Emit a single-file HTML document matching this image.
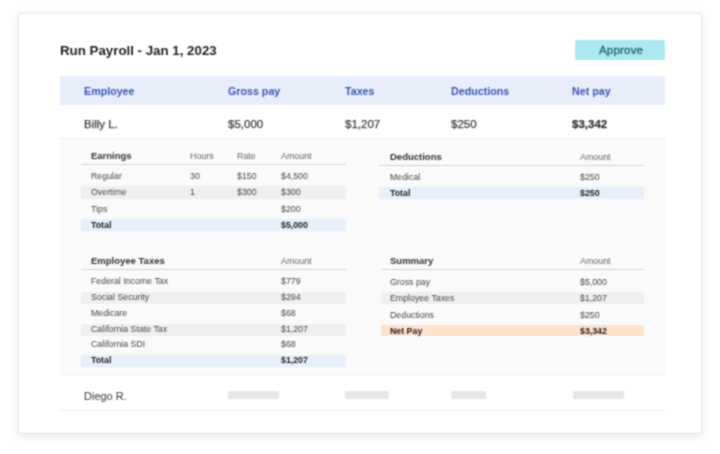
<!DOCTYPE html>
<html><head><meta charset="utf-8">
<style>
*{margin:0;padding:0;box-sizing:border-box}
html,body{width:720px;height:454px;background:#fff;overflow:hidden;font-family:"Liberation Sans",sans-serif}
.abs{position:absolute}
.card{position:absolute;left:19px;top:14px;width:682px;height:419px;background:#fff;border-radius:3px;box-shadow:0 0 1px 1px rgba(0,0,0,0.055),0 2px 9px 2px rgba(0,0,0,0.085)}
.t{position:absolute;white-space:nowrap;line-height:1}
.title{left:60px;top:44px;font-size:13.3px;font-weight:bold;color:#1f1f1f}
.btn{left:575px;top:40px;width:90px;height:20px;background:#ace9ee;border-radius:2px}
.btntxt{left:599px;top:45px;font-size:11.4px;letter-spacing:0.25px;color:#226a6e;-webkit-text-stroke:0.35px #226a6e}
.hband{left:60px;top:76px;width:605px;height:29px;background:#e7eefa}
.h{top:86px;font-size:10.7px;font-weight:bold;color:#3c56b6}
.r{top:119px;font-size:11.5px;color:#3c3c3c;-webkit-text-stroke:0.25px #3c3c3c}
.line{position:absolute;height:1px;background:#efefef}
.gray{left:60px;top:138px;width:605px;height:237px;background:#f9faf9}
.sh{font-size:9.5px;font-weight:bold;color:#333}
.ch{font-size:8.9px;color:#666}
.c{font-size:8.8px;color:#474747}
.cb{font-size:8.8px;font-weight:bold;color:#222}
.hl{position:absolute;height:1px;background:#d6d6d6}
.band{position:absolute;height:13px;background:#efefef}
.bband{position:absolute;height:12px;background:#e7effb}
.pband{position:absolute;height:11px;background:#fde2ce}
.ph{position:absolute;top:391px;height:8px;background:#e6e6e6;border-radius:1px}
#wrap{position:absolute;left:0;top:0;width:720px;height:454px;background:#fff;filter:url(#soft)}
</style></head><body>
<svg width="0" height="0" style="position:absolute"><filter id="soft" x="0" y="0" width="100%" height="100%" color-interpolation-filters="sRGB"><feConvolveMatrix order="3" kernelMatrix="1 2 1 2 6 2 1 2 1" divisor="18" edgeMode="duplicate" preserveAlpha="true"/></filter></svg>
<div id="wrap">
<div class="card"></div>
<div class="t title">Run Payroll - Jan 1, 2023</div>
<div class="abs btn"></div>
<div class="t btntxt">Approve</div>

<div class="abs hband"></div>
<div class="t h" style="left:84px">Employee</div>
<div class="t h" style="left:228px">Gross pay</div>
<div class="t h" style="left:345px">Taxes</div>
<div class="t h" style="left:451px">Deductions</div>
<div class="t h" style="left:572px">Net pay</div>

<div class="t r" style="left:84px">Billy L.</div>
<div class="t r" style="left:228px">$5,000</div>
<div class="t r" style="left:345px">$1,207</div>
<div class="t r" style="left:451px">$250</div>
<div class="t r" style="left:572px;font-weight:bold;color:#333">$3,342</div>

<div class="abs gray"></div>
<div class="line" style="left:60px;top:138px;width:605px"></div>

<!-- Earnings -->
<div class="t sh" style="left:91px;top:151px">Earnings</div>
<div class="t ch" style="left:190px;top:152px">Hours</div>
<div class="t ch" style="left:237px;top:152px">Rate</div>
<div class="t ch" style="left:281px;top:152px">Amount</div>
<div class="hl" style="left:81px;top:164px;width:265px"></div>
<div class="t c" style="left:91px;top:172px">Regular</div>
<div class="t c" style="left:190px;top:172px">30</div>
<div class="t c" style="left:237px;top:172px">$150</div>
<div class="t c" style="left:281px;top:172px">$4,500</div>
<div class="band" style="left:81px;top:186px;width:265px"></div>
<div class="t c" style="left:91px;top:188px">Overtime</div>
<div class="t c" style="left:190px;top:188px">1</div>
<div class="t c" style="left:237px;top:188px">$300</div>
<div class="t c" style="left:281px;top:188px">$300</div>
<div class="t c" style="left:91px;top:205px">Tips</div>
<div class="t c" style="left:281px;top:205px">$200</div>
<div class="bband" style="left:81px;top:219px;width:265px"></div>
<div class="t cb" style="left:91px;top:221px">Total</div>
<div class="t cb" style="left:281px;top:221px">$5,000</div>

<!-- Deductions -->
<div class="t sh" style="left:390px;top:152px">Deductions</div>
<div class="t ch" style="left:580px;top:153px">Amount</div>
<div class="hl" style="left:379px;top:165px;width:265px"></div>
<div class="t c" style="left:390px;top:173px">Medical</div>
<div class="t c" style="left:580px;top:173px">$250</div>
<div class="bband" style="left:379px;top:187px;width:265px"></div>
<div class="t cb" style="left:390px;top:189px">Total</div>
<div class="t cb" style="left:580px;top:189px">$250</div>

<!-- Employee Taxes -->
<div class="t sh" style="left:91px;top:256px">Employee Taxes</div>
<div class="t ch" style="left:281px;top:257px">Amount</div>
<div class="hl" style="left:81px;top:269px;width:265px"></div>
<div class="t c" style="left:91px;top:277px">Federal Income Tax</div>
<div class="t c" style="left:281px;top:277px">$779</div>
<div class="band" style="left:81px;top:292px;width:265px;height:12px"></div>
<div class="t c" style="left:91px;top:293px">Social Security</div>
<div class="t c" style="left:281px;top:293px">$294</div>
<div class="t c" style="left:91px;top:309px">Medicare</div>
<div class="t c" style="left:281px;top:309px">$68</div>
<div class="band" style="left:81px;top:324px;width:265px;height:12px"></div>
<div class="t c" style="left:91px;top:325px">California State Tax</div>
<div class="t c" style="left:281px;top:325px">$1,207</div>
<div class="t c" style="left:91px;top:340px">California SDI</div>
<div class="t c" style="left:281px;top:340px">$68</div>
<div class="bband" style="left:81px;top:355px;width:265px"></div>
<div class="t cb" style="left:91px;top:356px">Total</div>
<div class="t cb" style="left:281px;top:356px">$1,207</div>

<!-- Summary -->
<div class="t sh" style="left:390px;top:256px">Summary</div>
<div class="t ch" style="left:580px;top:257px">Amount</div>
<div class="hl" style="left:381px;top:269px;width:263px"></div>
<div class="t c" style="left:390px;top:278px">Gross pay</div>
<div class="t c" style="left:580px;top:278px">$5,000</div>
<div class="band" style="left:381px;top:292px;width:263px;height:12px"></div>
<div class="t c" style="left:390px;top:294px">Employee Taxes</div>
<div class="t c" style="left:580px;top:294px">$1,207</div>
<div class="t c" style="left:390px;top:311px">Deductions</div>
<div class="t c" style="left:580px;top:311px">$250</div>
<div class="pband" style="left:381px;top:325px;width:263px"></div>
<div class="t cb" style="left:390px;top:327px">Net Pay</div>
<div class="t cb" style="left:580px;top:327px">$3,342</div>

<div class="line" style="left:60px;top:374px;width:605px"></div>
<div class="t r" style="left:84px;top:391px;font-size:11px;color:#484848;-webkit-text-stroke:0.1px #484848">Diego R.</div>
<div class="ph" style="left:228px;width:51px"></div>
<div class="ph" style="left:345px;width:44px"></div>
<div class="ph" style="left:451px;width:35px"></div>
<div class="ph" style="left:573px;width:51px"></div>
<div class="line" style="left:60px;top:410px;width:605px"></div>
</div>
</body></html>
